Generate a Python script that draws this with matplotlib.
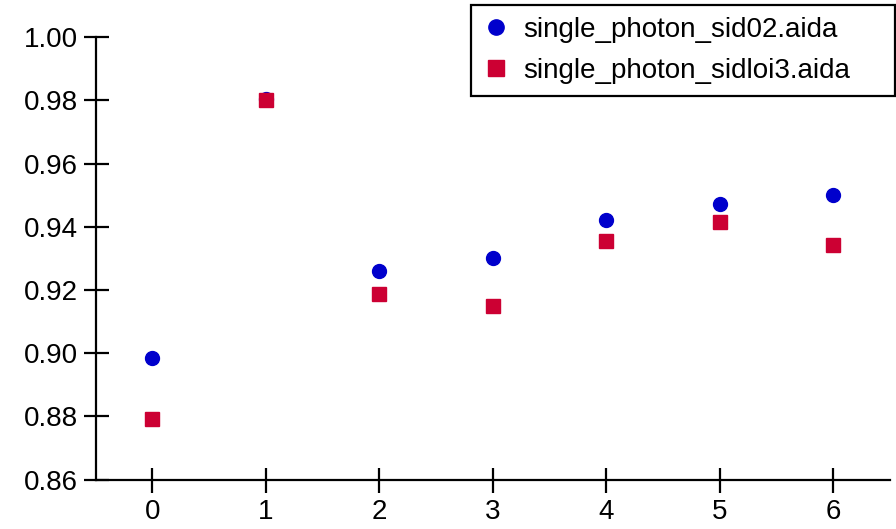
import matplotlib.pyplot as plt

# data
x_vals = [0, 1, 2, 3, 4, 5, 6]
sid02 = [0.8985, 0.9805, 0.9259, 0.9300, 0.9420, 0.9471, 0.9499]
sidloi3 = [0.8792, 0.9802, 0.9187, 0.9149, 0.9354, 0.9414, 0.9341]
labels = ['single_photon_sid02.aida', 'single_photon_sidloi3.aida']
y_ticks = [0.86, 0.88, 0.90, 0.92, 0.94, 0.96, 0.98, 1.00]

plt.rcParams['font.family'] = ['Liberation Sans', 'DejaVu Sans']

fig = plt.figure(figsize=(8.96, 5.29), dpi=100)
ax = fig.add_axes([0.1068, 0.0932, 0.9933 - 0.1068, 0.930 - 0.0932])

ax.plot(x_vals, sid02, 'o', color='#0000cc', markersize=10, label=labels[0], zorder=2)
ax.plot(x_vals, sidloi3, 's', color='#cc0033', markersize=10, label=labels[1], zorder=3)

ax.set_xlim(-0.5, 6.5)
ax.set_ylim(0.86, 1.00)
ax.set_xticks(x_vals)
ax.set_yticks(y_ticks)
ax.set_yticklabels(['%.2f' % v for v in y_ticks])

for side in ('top', 'right'):
    ax.spines[side].set_visible(False)
for side in ('left', 'bottom'):
    ax.spines[side].set_linewidth(1.6)
    ax.spines[side].set_capstyle('projecting')

ax.tick_params(axis='both', direction='inout', length=18, width=1.6,
               labelsize=20, colors='black')
ax.tick_params(axis='y', pad=4)
ax.tick_params(axis='x', pad=5)

# legend box sits above the axes, wider than its text
leg_x0, leg_w = 471 / 896, 424 / 896
fig.legend(loc='upper left', bbox_to_anchor=(leg_x0, 0.0, leg_w, 1 - 5 / 529),
           mode='expand', fontsize=20, frameon=True, fancybox=False,
           edgecolor='black', framealpha=1, borderaxespad=0,
           handletextpad=0.5, labelspacing=0.55, borderpad=0.42,
           handlelength=0.95, markerscale=1.1)
leg = fig.legends[0]
leg.get_frame().set_linewidth(1.6)

fig.savefig('out.png', dpi=100)
